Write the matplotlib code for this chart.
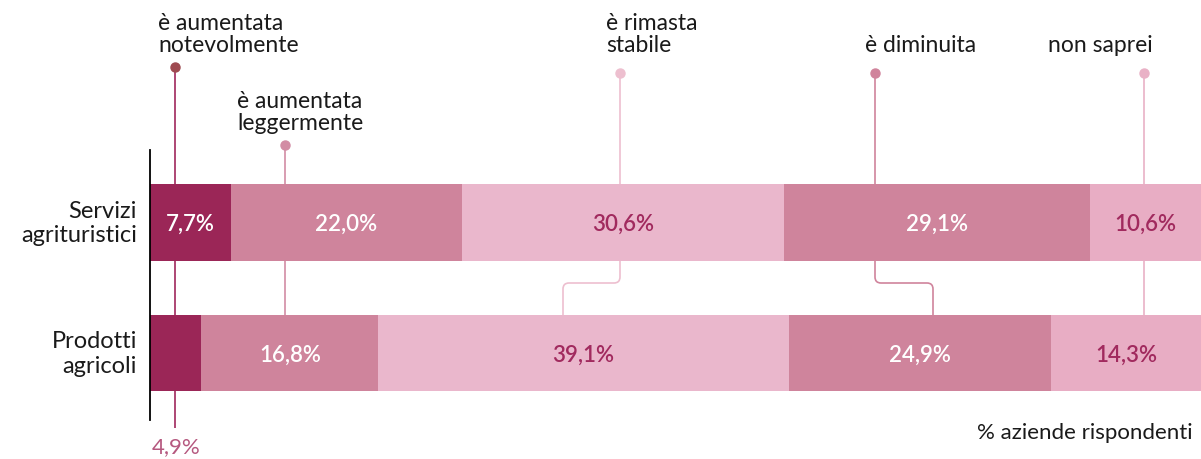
import matplotlib.pyplot as plt
import numpy as np
from matplotlib.path import Path
from matplotlib.patches import PathPatch

# data
categories = ["Servizi\nagrituristici", "Prodotti\nagricoli"]
answers = ["è aumentata\nnotevolmente", "è aumentata\nleggermente",
           "è rimasta\nstabile", "è diminuita", "non saprei"]
servizi = [7.7, 22.0, 30.6, 29.1, 10.6]
prodotti = [4.9, 16.8, 39.1, 24.9, 14.3]

# style
bar_colors = ["#9B2657", "#CF849C", "#EAB7CC", "#CF849C", "#E8ADC4"]
text_colors = ["white", "white", "#A12A5E", "white", "#A12A5E"]
dot_colors = ["#9E4A50", "#D28CA4", "#EDBFCF", "#D0849C", "#E9B1C6"]
line_colors = ["#A0285C", "#D28CA4", "#EDBFCF", "#D0849C", "#E9B1C6"]
FONT = "Lato"

W, H = 1201, 459
px = 100 / 1051  # percent per pixel on x

fig = plt.figure(figsize=(W / 100, H / 100), dpi=100)
ax = fig.add_axes([150 / W, 0, 1051 / W, 1])
ax.set_xlim(0, 100)
ax.set_ylim(H, 0)
ax.axis("off")

bar_y = [222.5, 353]
bar_h = [77, 76]
rows = [servizi, prodotti]

for r, vals in enumerate(rows):
    left = np.concatenate([[0], np.cumsum(vals)[:-1]])
    ax.barh(bar_y[r], vals, left=left, height=bar_h[r], color=bar_colors, zorder=2)
    for i, (l, v) in enumerate(zip(left, vals)):
        if r == 1 and i == 0:
            continue
        ax.text(l + v / 2, bar_y[r] + 2, f"{v:.1f}%".replace(".", ","),
                ha="center", va="center", color=text_colors[i],
                fontsize=16, family=FONT, weight="semibold", zorder=3)

# left axis line
ax.plot([0, 0], [150, 420], color="black", lw=1.3, zorder=4, clip_on=False)

# category labels
for cat, y in zip(categories, bar_y):
    ax.text(-13 * px, y + 1, cat, ha="right", va="center", fontsize=17,
            family=FONT, color="#1a1a1a", linespacing=1.2, clip_on=False)

# connectors: top x, bottom x (pixels), dot y
top_x = [175, 285, 620, 875, 1144]
bot_x = [175, 285, 563, 933, 1144]
dot_y = [67, 145, 73, 73, 73]
end_y = [428, 315, 315, 315, 315]
lab_x = [158, 237, 606, 865, 1048]
lab_y = [56, 134, 56, 56, 56]
rad = 6

def to_x(p):
    return (p - 150) * px

for i in range(5):
    tx, bx = to_x(top_x[i]), to_x(bot_x[i])
    if top_x[i] == bot_x[i]:
        verts = [(tx, dot_y[i]), (tx, end_y[i])]
        codes = [Path.MOVETO, Path.LINETO]
    else:
        ym = 283
        s = 1 if bx > tx else -1
        rx = rad * px
        verts = [(tx, dot_y[i]), (tx, ym - rad), (tx, ym), (tx + s * rx, ym),
                 (bx - s * rx, ym), (bx, ym), (bx, ym + rad), (bx, end_y[i])]
        codes = [Path.MOVETO, Path.LINETO, Path.CURVE3, Path.CURVE3,
                 Path.LINETO, Path.CURVE3, Path.CURVE3, Path.LINETO]
    ax.add_patch(PathPatch(Path(verts, codes), fill=False, lw=1.2,
                           edgecolor=line_colors[i], zorder=1, clip_on=False))
    ax.plot(tx, dot_y[i], "o", ms=6.5, color=dot_colors[i], zorder=5, clip_on=False)
    ax.text(to_x(lab_x[i]), lab_y[i], answers[i], ha="left", va="bottom",
            fontsize=16.5, family=FONT, color="#1a1a1a", linespacing=1.08,
            clip_on=False)

# label for the small segment below the chart
ax.text(to_x(152), 447, f"{prodotti[0]:.1f}%".replace(".", ","), ha="left",
        va="center", fontsize=16, family=FONT, color="#B5587F", clip_on=False)

ax.text(to_x(1193), 433, "% aziende rispondenti", ha="right", va="center",
        fontsize=16, family=FONT, color="#1a1a1a", clip_on=False)

fig.savefig("out.png", dpi=100)
